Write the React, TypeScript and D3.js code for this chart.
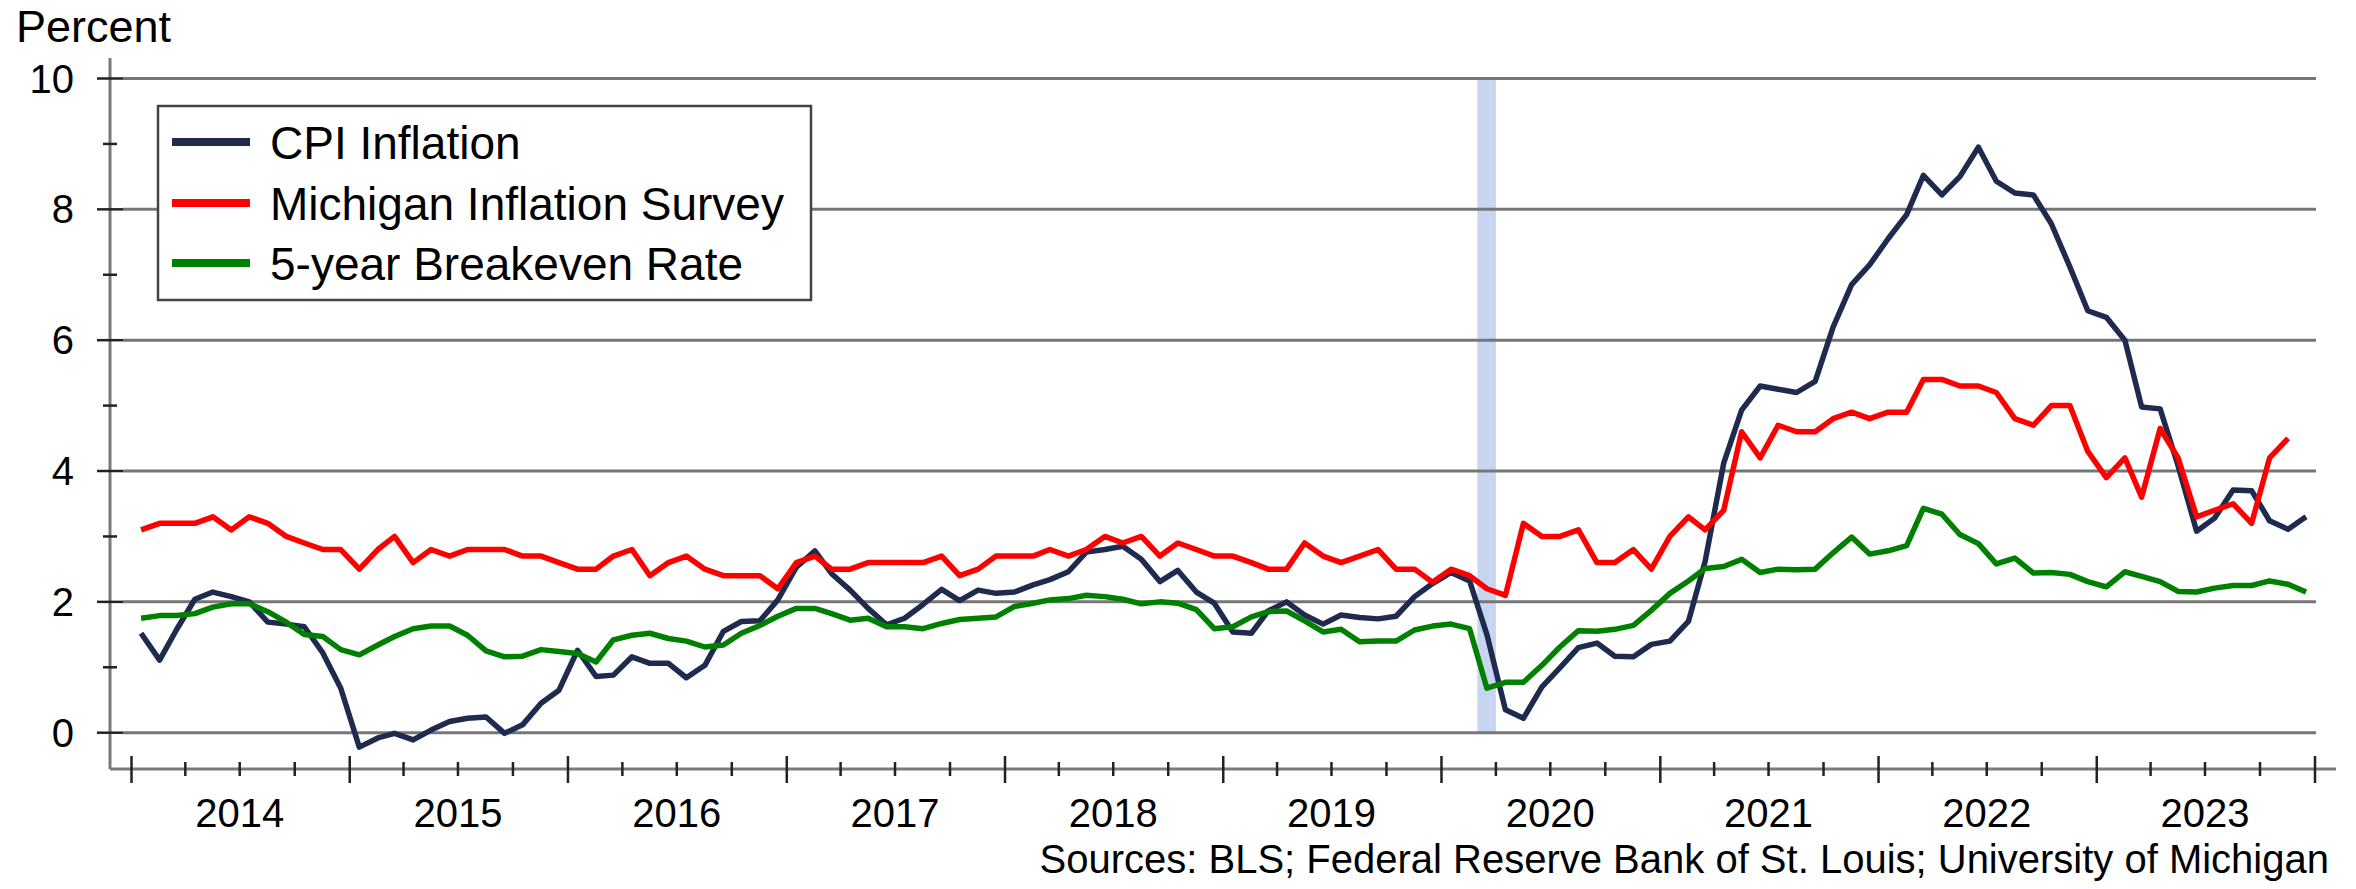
import React from "react";
import * as d3 from "d3";

const START_YEAR = 2014;
const yTicks = [0, 2, 4, 6, 8, 10];
const yMinorTicks = [1, 3, 5, 7, 9];
const yearLabels = ["2014", "2015", "2016", "2017", "2018", "2019", "2020", "2021", "2022", "2023"];

const cpi = [
  1.52, 1.11, 1.57, 2.04, 2.15, 2.08, 2.0, 1.69, 1.66, 1.62, 1.22, 0.68,
  -0.22, -0.08, -0.01, -0.11, 0.04, 0.17, 0.22, 0.24, -0.01, 0.12, 0.45, 0.65,
  1.26, 0.86, 0.88, 1.16, 1.06, 1.06, 0.84, 1.03, 1.55, 1.7, 1.71, 2.03,
  2.53, 2.78, 2.43, 2.18, 1.9, 1.65, 1.75, 1.96, 2.19, 2.02, 2.18, 2.13,
  2.15, 2.26, 2.34, 2.46, 2.76, 2.8, 2.85, 2.65, 2.31, 2.48, 2.15, 1.98,
  1.54, 1.52, 1.86, 2.0, 1.8, 1.66, 1.8, 1.76, 1.74, 1.78, 2.08, 2.28,
  2.45, 2.32, 1.5, 0.35, 0.22, 0.7, 0.99, 1.3, 1.37, 1.17, 1.16, 1.35,
  1.4, 1.7, 2.62, 4.12, 4.93, 5.3, 5.25, 5.2, 5.37, 6.2, 6.85, 7.15,
  7.55, 7.92, 8.52, 8.22, 8.5, 8.95, 8.43, 8.25, 8.22, 7.78, 7.12, 6.45,
  6.35, 6.0, 4.98, 4.95, 4.08, 3.08, 3.28, 3.71, 3.7, 3.24, 3.11, 3.3,
];

const michigan = [
  3.1, 3.2, 3.2, 3.2, 3.3, 3.1, 3.3, 3.2, 3.0, 2.9, 2.8, 2.8,
  2.5, 2.8, 3.0, 2.6, 2.8, 2.7, 2.8, 2.8, 2.8, 2.7, 2.7, 2.6,
  2.5, 2.5, 2.7, 2.8, 2.4, 2.6, 2.7, 2.5, 2.4, 2.4, 2.4, 2.2,
  2.6, 2.7, 2.5, 2.5, 2.6, 2.6, 2.6, 2.6, 2.7, 2.4, 2.5, 2.7,
  2.7, 2.7, 2.8, 2.7, 2.8, 3.0, 2.9, 3.0, 2.7, 2.9, 2.8, 2.7,
  2.7, 2.6, 2.5, 2.5, 2.9, 2.7, 2.6, 2.7, 2.8, 2.5, 2.5, 2.3,
  2.5, 2.4, 2.2, 2.1, 3.2, 3.0, 3.0, 3.1, 2.6, 2.6, 2.8, 2.5,
  3.0, 3.3, 3.1, 3.4, 4.6, 4.2, 4.7, 4.6, 4.6, 4.8, 4.9, 4.8,
  4.9, 4.9, 5.4, 5.4, 5.3, 5.3, 5.2, 4.8, 4.7, 5.0, 5.0, 4.3,
  3.9, 4.2, 3.6, 4.65, 4.2, 3.3, 3.4, 3.5, 3.2, 4.2, 4.5,
];

const breakeven = [
  1.75, 1.79, 1.79, 1.82, 1.92, 1.97, 1.97, 1.85, 1.69, 1.5, 1.47, 1.27,
  1.19, 1.34, 1.47, 1.59, 1.63, 1.63, 1.49, 1.25, 1.16, 1.17, 1.27, 1.24,
  1.21, 1.08, 1.42, 1.49, 1.52, 1.44, 1.4, 1.31, 1.34, 1.52, 1.64, 1.78,
  1.9, 1.9, 1.82, 1.72, 1.75, 1.62, 1.62, 1.59, 1.67, 1.73, 1.75, 1.77,
  1.93, 1.98, 2.03, 2.05, 2.1, 2.08, 2.04, 1.97, 2.0, 1.98, 1.88, 1.59,
  1.62, 1.77, 1.85, 1.86, 1.71, 1.54, 1.58, 1.39, 1.4, 1.4, 1.57, 1.63,
  1.66, 1.59, 0.68, 0.77, 0.77, 1.03, 1.31, 1.56, 1.55, 1.58, 1.64, 1.87,
  2.13, 2.32, 2.51, 2.54, 2.65, 2.45, 2.5, 2.49, 2.5, 2.75, 2.99, 2.73,
  2.78, 2.86, 3.43, 3.34, 3.03, 2.89, 2.58, 2.67, 2.44, 2.45, 2.42, 2.31,
  2.23, 2.46, 2.39, 2.31, 2.16, 2.15, 2.21, 2.25, 2.25, 2.32, 2.27, 2.15,
];

const recession = [new Date(2020, 2, 1), new Date(2020, 3, 1)];

const seriesDefs = [
  { name: "CPI Inflation", values: cpi, color: "#1e2b4f" },
  { name: "Michigan Inflation Survey", values: michigan, color: "#ff0000" },
  { name: "5-year Breakeven Rate", values: breakeven, color: "#008000" },
];

const FONT = "'Liberation Sans', Arial, sans-serif";

export default function App() {
  const W = 2356;
  const H = 889;
  const x = d3
    .scaleTime()
    .domain([new Date(START_YEAR, 0, 1), new Date(START_YEAR + 10, 0, 1)])
    .range([131.5, 2315]);
  const y = d3.scaleLinear().domain([0, 10]).range([732.7, 78.5]);

  const dateOf = (i: number) => new Date(START_YEAR + Math.floor(i / 12), i % 12, 17);
  const line = d3
    .line<number>()
    .x((_, i) => x(dateOf(i)))
    .y((d) => y(d));

  const axisY = 769;
  const axisX = 110;
  const gridX0 = 123;
  const gridX1 = 2316;

  const quarterTicks: Date[] = [];
  for (let yr = START_YEAR; yr <= START_YEAR + 10; yr++) {
    for (let q = 0; q < 4; q++) {
      const d = new Date(yr, q * 3, 1);
      if (d <= x.domain()[1]) quarterTicks.push(d);
    }
  }

  const legendX = 158;
  const legendY = 106;
  const legendW = 653;
  const legendH = 194;
  const rowY = [142, 203, 263];

  return (
    <svg
      width={W}
      height={H}
      style={{ position: "absolute", left: 0, top: 0, background: "#fff" }}
      fontFamily={FONT}
    >
      <rect x={0} y={0} width={W} height={H} fill="#fff" />
      {/* recession band */}
      <rect
        x={x(recession[0])}
        y={y(10)}
        width={x(recession[1]) - x(recession[0])}
        height={y(0) - y(10)}
        fill="#c8d5f0"
      />
      {/* gridlines */}
      {yTicks.map((t) => (
        <line key={"g" + t} x1={gridX0} x2={gridX1} y1={y(t)} y2={y(t)} stroke="#767676" strokeWidth={3} />
      ))}
      {/* y axis */}
      <line x1={axisX} x2={axisX} y1={58} y2={axisY} stroke="#7a7a7a" strokeWidth={3} />
      {yTicks.map((t) => (
        <line key={"yt" + t} x1={97} x2={123} y1={y(t)} y2={y(t)} stroke="#222" strokeWidth={2.5} />
      ))}
      {yMinorTicks.map((t) => (
        <line key={"ym" + t} x1={103} x2={117} y1={y(t)} y2={y(t)} stroke="#222" strokeWidth={2.5} />
      ))}
      {yTicks.map((t) => (
        <text key={"yl" + t} x={74} y={y(t) + 14} textAnchor="end" fontSize={40} fill="#000">
          {t}
        </text>
      ))}
      <text x={16} y={42} fontSize={45} fill="#000">
        Percent
      </text>
      {/* x axis */}
      <line x1={axisX} x2={2336} y1={axisY} y2={axisY} stroke="#7a7a7a" strokeWidth={3} />
      {quarterTicks.map((d, i) => {
        const major = d.getMonth() === 0;
        return (
          <line
            key={"xt" + i}
            x1={x(d)}
            x2={x(d)}
            y1={major ? 756 : 762}
            y2={major ? 783 : 776}
            stroke="#222"
            strokeWidth={2.5}
          />
        );
      })}
      {yearLabels.map((lab, i) => (
        <text
          key={"xl" + lab}
          x={x(new Date(START_YEAR + i, 6, 1))}
          y={827}
          textAnchor="middle"
          fontSize={40}
          fill="#000"
        >
          {lab}
        </text>
      ))}
      {/* series */}
      {seriesDefs.map((s) => (
        <path
          key={s.name}
          d={line(s.values) || ""}
          fill="none"
          stroke={s.color}
          strokeWidth={5.5}
          strokeLinejoin="round"
        />
      ))}
      {/* legend */}
      <rect x={legendX} y={legendY} width={legendW} height={legendH} fill="#fff" stroke="#444" strokeWidth={2.5} />
      {seriesDefs.map((s, i) => (
        <g key={"lg" + s.name}>
          <line x1={172} x2={250} y1={rowY[i]} y2={rowY[i]} stroke={s.color} strokeWidth={8} />
          <text x={270} y={rowY[i] + 17} fontSize={46} fill="#000">
            {s.name}
          </text>
        </g>
      ))}
      <text x={2329} y={873} textAnchor="end" fontSize={40} fill="#000">
        Sources: BLS; Federal Reserve Bank of St. Louis; University of Michigan
      </text>
    </svg>
  );
}
